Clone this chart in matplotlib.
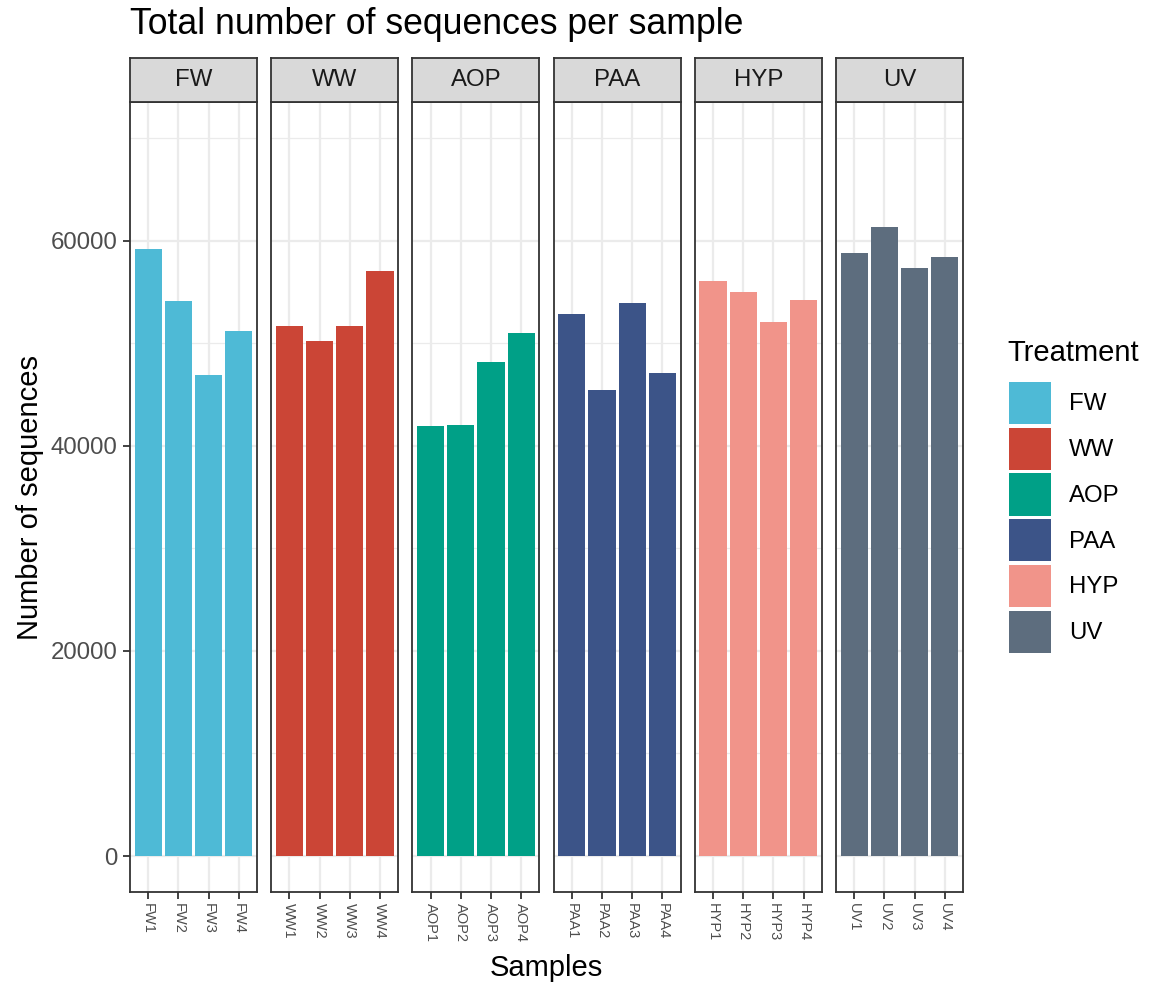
import matplotlib
matplotlib.use("Agg")
import matplotlib.pyplot as plt
from matplotlib.patches import Patch

plt.rcParams['font.family'] = ['Liberation Sans', 'DejaVu Sans']

# ---- data ----
treatments = ["FW", "WW", "AOP", "PAA", "HYP", "UV"]
sample_numbers = ["1", "2", "3", "4"]
fw_values = [59190, 54150, 46860, 51220]
ww_values = [51680, 50210, 51640, 57010]
aop_values = [41950, 42010, 48160, 50990]
paa_values = [52880, 45430, 53890, 47120]
hyp_values = [56070, 54960, 52100, 54240]
uv_values = [58770, 61270, 57300, 58370]
values = [fw_values, ww_values, aop_values, paa_values, hyp_values, uv_values]
colors = ["#4EBAD6", "#CB4536", "#00A087", "#3C5488", "#F1948A", "#5D6D7E"]
y_major = [0, 20000, 40000, 60000]
y_minor = [10000, 30000, 50000, 70000]

W, H = 1153, 984
fig = plt.figure(figsize=(W / 100, H / 100), dpi=100)

def fx(px):
    return px / W

def fy(py):
    return 1 - py / H

panel_left0 = 130
panel_w = 127
pitch = 141.2
panel_top = 102
panel_bottom = 892
strip_top = 58

border_col = "#333333"
grid_col = "#EBEBEB"

for i, (t, vals, col) in enumerate(zip(treatments, values, colors)):
    left = panel_left0 + i * pitch
    ax = fig.add_axes([fx(left), fy(panel_bottom), fx(panel_w), (panel_bottom - panel_top) / H])
    labels = [t + n for n in sample_numbers]
    xs = list(range(1, len(vals) + 1))
    ax.bar(xs, vals, width=0.9, color=col, edgecolor='none', zorder=3)
    ax.set_xlim(0.4, len(vals) + 0.6)
    ax.set_ylim(-3500, 73500)
    ax.set_xticks(xs)
    ax.set_xticklabels(labels, rotation=-90, fontsize=10.5, color="#4D4D4D")
    ax.set_yticks(y_major)
    ax.set_yticks(y_minor, minor=True)
    ax.grid(which='major', axis='both', color=grid_col, lw=1.6, zorder=0)
    ax.grid(which='minor', axis='y', color=grid_col, lw=0.9, zorder=0)
    ax.set_axisbelow(True)
    for s in ax.spines.values():
        s.set_color(border_col)
        s.set_linewidth(1.3)
    ax.tick_params(axis='x', length=5, width=1.3, color=border_col, pad=3)
    ax.tick_params(axis='y', which='minor', length=0)
    if i == 0:
        ax.set_yticklabels([str(v) for v in y_major], fontsize=17.3, color="#4D4D4D")
        ax.tick_params(axis='y', which='major', length=5, width=1.3, color=border_col, pad=4)
    else:
        ax.tick_params(axis='y', which='major', length=0, labelleft=False)
    # strip
    sax = fig.add_axes([fx(left), fy(panel_top), fx(panel_w), (panel_top - strip_top) / H])
    sax.set_facecolor("#D9D9D9")
    sax.set_xticks([])
    sax.set_yticks([])
    for s in sax.spines.values():
        s.set_color(border_col)
        s.set_linewidth(1.3)
    sax.text(0.5, 0.5, t, ha='center', va='center', fontsize=17.3, color="#1A1A1A",
             transform=sax.transAxes)

fig.text(fx(130), fy(25), "Total number of sequences per sample", fontsize=25.7,
         ha='left', va='center', color='black')
fig.text(fx(546), fy(968), "Samples", fontsize=21, ha='center', va='center')
fig.text(fx(30), fy(497), "Number of sequences", fontsize=21, ha='center', va='center',
         rotation=90)

# legend
fig.text(fx(1007), fy(353), "Treatment", fontsize=21, ha='left', va='center')
handles = [Patch(facecolor=c, edgecolor='none', label=t) for t, c in zip(treatments, colors)]
leg = fig.legend(handles=handles, loc='upper left', bbox_to_anchor=(fx(1009), fy(382)),
                 frameon=False, fontsize=17.3,
                 handlelength=1.74, handleheight=2.32, labelspacing=0.15,
                 handletextpad=0.75, borderpad=0, borderaxespad=0)

fig.savefig("out.png", dpi=100)
